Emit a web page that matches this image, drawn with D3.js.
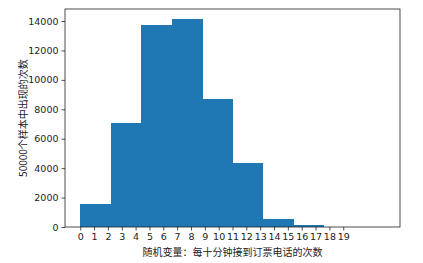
<!DOCTYPE html>
<html>
<head>
  <meta charset="utf-8">
  <script src="https://cdn.jsdelivr.net/npm/d3@7"></script>
  <style>
    body { margin: 0; background: #fff; }
    text { font-family: "Noto Sans CJK SC", "DejaVu Sans", sans-serif; }
  </style>
</head>
<body>
<svg id="chart" width="423" height="263"></svg>
<script>
// histogram: 10 bins over 0..22
var binEdges = [0, 2.2, 4.4, 6.6, 8.8, 11, 13.2, 15.4, 17.6, 19.8, 22]
var counts = [1580, 7080, 13750, 14110, 8710, 4370, 560, 150, 15, 2]
var xTicks = d3.range(0, 20)
var yTicks = [0, 2000, 4000, 6000, 8000, 10000, 12000, 14000]
var xLabel = '随机变量：每十分钟接到订票电话的次数'
var yLabel = '50000个样本中出现的次数'

var margin = { left: 65, right: 23, top: 9, bottom: 36 }
var width = 423, height = 263

var svg = d3.select('#chart')

var xspan = binEdges[binEdges.length - 1] - binEdges[0]
var x = d3.scaleLinear()
  .domain([binEdges[0] - xspan * 0.05, binEdges[binEdges.length - 1] + xspan * 0.05])
  .range([margin.left, width - margin.right])
var y = d3.scaleLinear()
  .domain([0, d3.max(counts) * 1.05])
  .range([height - margin.bottom, margin.top])

svg.append('g').selectAll('rect')
  .data(counts)
  .enter().append('rect')
  .attr('x', function (d, i) { return x(binEdges[i]) })
  .attr('width', function (d, i) { return x(binEdges[i + 1]) - x(binEdges[i]) + 0.5 })
  .attr('y', function (d) { return y(d) })
  .attr('height', function (d) { return y(0) - y(d) })
  .attr('fill', '#1f77b4')
  .attr('shape-rendering', 'crispEdges')

var xAxis = svg.append('g')
  .attr('transform', 'translate(0,' + (height - margin.bottom) + ')')
  .call(d3.axisBottom(x).tickValues(xTicks).tickSize(3.5).tickPadding(3))
var yAxis = svg.append('g')
  .attr('transform', 'translate(' + margin.left + ',0)')
  .call(d3.axisLeft(y).tickValues(yTicks).tickSize(3.5).tickPadding(3).tickFormat(d3.format('d')))

;[xAxis, yAxis].forEach(function (a) {
  a.select('.domain').remove()
  a.selectAll('text').attr('font-size', 9.5).attr('fill', '#222')
    .style('font-family', '"DejaVu Sans", sans-serif')
  a.selectAll('line').attr('stroke', '#222').attr('stroke-width', 0.8)
})

// frame
svg.append('rect')
  .attr('x', margin.left)
  .attr('y', margin.top)
  .attr('width', width - margin.left - margin.right)
  .attr('height', height - margin.top - margin.bottom)
  .attr('fill', 'none')
  .attr('stroke', '#222')
  .attr('stroke-width', 0.8)

svg.append('text')
  .attr('x', (margin.left + width - margin.right) / 2)
  .attr('y', 256)
  .attr('text-anchor', 'middle')
  .attr('font-size', 10)
  .attr('fill', '#222')
  .text(xLabel)

svg.append('text')
  .attr('transform', 'translate(27,' + ((margin.top + height - margin.bottom) / 2) + ') rotate(-90)')
  .attr('text-anchor', 'middle')
  .attr('font-size', 10)
  .attr('fill', '#222')
  .text(yLabel)
</script>
</body>
</html>
